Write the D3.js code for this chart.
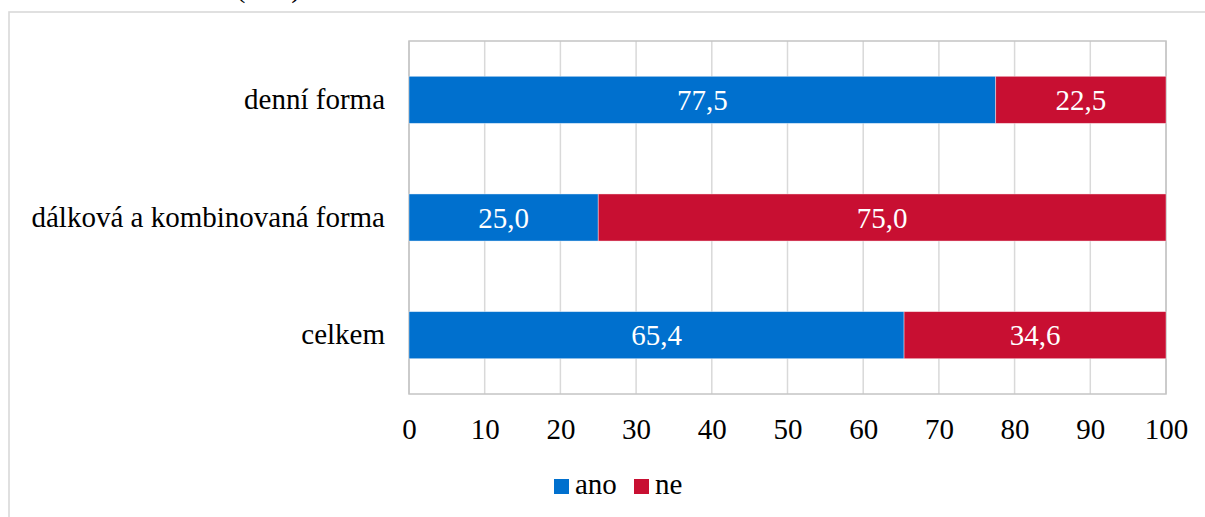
<!DOCTYPE html>
<html>
<head>
<meta charset="utf-8">
<script src="https://cdn.jsdelivr.net/npm/d3@7"></script>
</head>
<body style="margin:0">
<svg id="chart" width="1205" height="517" font-family="Liberation Serif" style="display:block;font-family:'Liberation Serif'"></svg>
<script>
const categories = ["denní forma", "dálková a kombinovaná forma", "celkem"];
const seriesNames = ["ano", "ne"];
const anoValues = [77.5, 25.0, 65.4];
const neValues = [22.5, 75.0, 34.6];
const tickValues = [0, 10, 20, 30, 40, 50, 60, 70, 80, 90, 100];
const colors = ["#0070CE", "#C80F32"];
const titleText = "(v %)";

const FAMILY = "Liberation Serif";
const FS = 29;

const svg = d3.select("#chart");
const margin = { left: 409, right: 1205 - 1166, top: 41, bottom: 517 - 394 };
const W = 1205, H = 517;

function serif(sel) {
  return sel.attr("font-family", FAMILY).style("font-family", `'${FAMILY}'`).attr("font-size", FS);
}

// outer chart frame (extends beyond the picture, as in the reference)
svg.append("rect")
  .attr("x", 9).attr("y", 12)
  .attr("width", 1300).attr("height", 700)
  .attr("fill", "none").attr("stroke", "#d9d9d9").attr("stroke-width", 1.6);

// title, mostly cut off at the top as in the reference
serif(svg.append("text"))
  .attr("x", 301).attr("y", -3)
  .attr("text-anchor", "end")
  .attr("fill", "#000")
  .text(titleText);

const x = d3.scaleLinear().domain([0, 100]).range([margin.left, W - margin.right]);
const y = d3.scaleBand().domain(categories).range([margin.top, H - margin.bottom]).paddingInner(0.6).paddingOuter(0.3);

// gridlines
svg.append("g")
  .selectAll("line")
  .data(tickValues)
  .join("line")
  .attr("x1", d => x(d)).attr("x2", d => x(d))
  .attr("y1", margin.top).attr("y2", H - margin.bottom)
  .attr("stroke", "#d9d9d9").attr("stroke-width", 1.5);

// plot border
svg.append("rect")
  .attr("x", x(0)).attr("y", margin.top)
  .attr("width", x(100) - x(0)).attr("height", H - margin.bottom - margin.top)
  .attr("fill", "none").attr("stroke", "#c4c4c4").attr("stroke-width", 1.5);

// stacked data
const rows = categories.map((c, i) => ({ cat: c, ano: anoValues[i], ne: neValues[i] }));
const stack = d3.stack().keys(seriesNames)(rows);

const groups = svg.append("g").selectAll("g")
  .data(stack)
  .join("g")
  .attr("fill", (d, i) => colors[i]);

groups.selectAll("rect")
  .data(d => d)
  .join("rect")
  .attr("x", d => x(d[0]))
  .attr("y", d => y(d.data.cat))
  .attr("width", d => x(d[1]) - x(d[0]))
  .attr("height", y.bandwidth())
  .attr("stroke", "#ffffff").attr("stroke-opacity", 0.5).attr("stroke-width", 0.8);

// value labels
serif(groups.selectAll("text")
  .data(d => d)
  .join("text"))
  .attr("x", d => (x(d[0]) + x(d[1])) / 2)
  .attr("y", d => y(d.data.cat) + y.bandwidth() / 2)
  .attr("dy", "0.35em")
  .attr("text-anchor", "middle")
  .attr("fill", "#fff")
  .text(d => d3.format(".1f")(d[1] - d[0]).replace(".", ","));

// category axis
const yAxis = svg.append("g")
  .attr("transform", `translate(${x(0)},0)`)
  .call(d3.axisLeft(y).tickSize(0).tickPadding(24));
yAxis.select(".domain").remove();
yAxis.attr("font-family", FAMILY).attr("font-size", FS);
serif(yAxis.selectAll("text")).attr("fill", "#000");

// value axis
const xAxis = svg.append("g")
  .attr("transform", `translate(0,${H - margin.bottom})`)
  .call(d3.axisBottom(x).tickValues(tickValues).tickSize(0).tickPadding(24));
xAxis.select(".domain").remove();
xAxis.attr("font-family", FAMILY).attr("font-size", FS);
serif(xAxis.selectAll("text")).attr("fill", "#000");

// legend
const legendItems = [
  { name: seriesNames[0], color: colors[0], x: 554 },
  { name: seriesNames[1], color: colors[1], x: 634 }
];
const leg = svg.append("g").selectAll("g").data(legendItems).join("g")
  .attr("transform", d => `translate(${d.x},479)`);
leg.append("rect").attr("width", 15).attr("height", 15).attr("fill", d => d.color);
serif(leg.append("text")).attr("x", 21).attr("y", 15)
  .attr("fill", "#000")
  .text(d => d.name);
</script>
</body>
</html>
